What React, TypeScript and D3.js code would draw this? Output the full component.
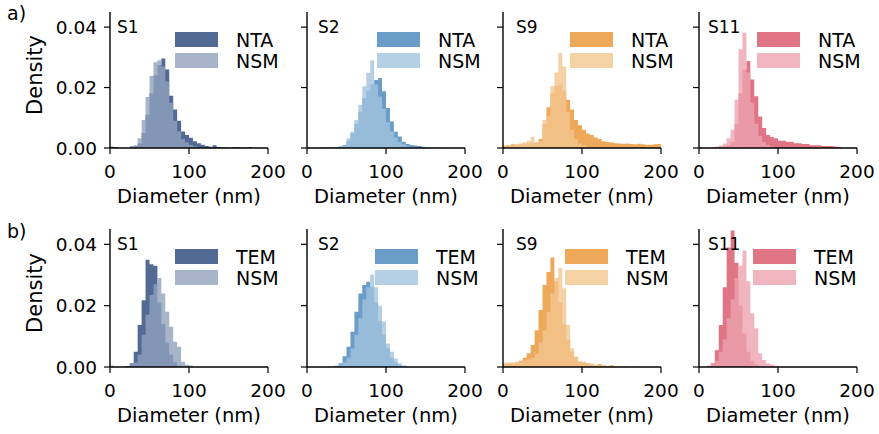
import React from "react";
import * as d3 from "d3";

// Histogram densities per 5 nm bin, starting at 0 nm (bins past the end of a list are empty).
const BIN_WIDTH = 5;
const X_MAX = 200;

const s1NTA = [0.0004,0.0003,0,0,0,0.0003,0.0006,0.0015,0.005,0.011, 0.018,0.024,0.0275,0.0296,0.026,0.0173,0.0127,0.009,0.0055,0.0043, 0.0034,0.0022,0.0016,0.0011,0.0007,0.0004,0.0009,0.0003,0.0002,0.0002, 0.0001,0.0003,0.0003,0.0001,0.0002,0.0003];
const s1NSMa = [0,0,0,0,0,0.0007,0.0009,0.0032,0.0093,0.0169, 0.0238,0.0284,0.029,0.027,0.022,0.015,0.009,0.0055,0.003,0.0018, 0.001,0.0006,0.0003];
const s2NTA = [0,0,0,0.0002,0.0002,0.0002,0.0002,0.0003,0.0005,0.001, 0.0025,0.005,0.008,0.012,0.0165,0.019,0.021,0.0225,0.0232,0.0188, 0.0132,0.0088,0.0054,0.0038,0.0021,0.0013,0.001,0.0008,0.0007,0.0004, 0.0002,0.0001,0.0001,0.0001,0.0001];
const s2NSMa = [0,0,0,0.0001,0.0001,0.0001,0.0001,0.0002,0.0002,0.0008, 0.0032,0.0054,0.0093,0.0143,0.0204,0.0249,0.029,0.021,0.017,0.013, 0.0085,0.0055,0.0035,0.002,0.0012,0.0006,0.0003];
const s9NTA = [0.0008,0.001,0.0012,0.001,0.0012,0.0012,0.0015,0.0015,0.0018,0.003, 0.008,0.0135,0.018,0.0205,0.021,0.019,0.016,0.0127,0.0093,0.0075, 0.006,0.0048,0.0043,0.0035,0.003,0.0022,0.002,0.0018,0.0016,0.0015, 0.0014,0.0015,0.0013,0.0012,0.0014,0.0012,0.0011,0.0011,0.0012,0.0013];
const s9NSMa = [0.0008,0.001,0.0011,0.0013,0.0016,0.0019,0.0024,0.0036,0.0016,0.0022, 0.0093,0.0105,0.0204,0.025,0.0314,0.027,0.012,0.006,0.003,0.0015, 0.0008,0.0004];
const s11NTA = [0,0,0,0,0,0.0003,0.0006,0.001,0.002,0.008, 0.018,0.026,0.0288,0.0227,0.0171,0.0104,0.0066,0.0043,0.0036,0.0032, 0.0024,0.0024,0.0021,0.0021,0.0016,0.0016,0.0013,0.0013,0.0009,0.0009, 0.0009,0.0007,0.0007,0.0007,0.0005,0.0003];
const s11NSMa = [0,0,0,0.0003,0.0005,0.0008,0.0015,0.0032,0.006,0.016, 0.0327,0.0382,0.025,0.015,0.008,0.004,0.002,0.001,0.0005];

const s1TEM = [0,0,0,0,0.0003,0.0012,0.005,0.0137,0.0218,0.035, 0.0335,0.033,0.021,0.014,0.008,0.004,0.0015,0.0005];
const s1NSMb = [0.0005,0,0,0,0,0.0012,0.0015,0.004,0.0105,0.017, 0.0235,0.027,0.029,0.024,0.018,0.0131,0.0082,0.0066,0.0017,0.0007, 0.0005];
const s2TEM = [0,0,0,0,0,0,0,0.0003,0.0012,0.0035, 0.0066,0.0115,0.018,0.024,0.0267,0.0278,0.0262,0.021,0.015,0.0105, 0.006,0.003,0.0015,0.0006,0.0002];
const s2NSMb = [0,0,0,0,0,0.0002,0.0003,0.0005,0.0008,0.0015, 0.003,0.006,0.0105,0.016,0.022,0.026,0.0302,0.026,0.02,0.0148, 0.0077,0.005,0.0028,0.0012,0.0006,0.0002];
const s9TEM = [0.001,0.0012,0.0012,0.0015,0.002,0.003,0.0045,0.0072,0.012,0.0186, 0.0267,0.031,0.0357,0.028,0.021,0.014,0.009,0.005,0.003,0.0018, 0.0015,0.0012,0.0008,0.0005,0.001,0.0005,0.0003,0.0006,0.0002,0.0002, 0.0002,0.0002,0,0.0002];
const s9NSMb = [0.0015,0.0015,0.0015,0.0016,0.0018,0.002,0.0025,0.003,0.0045,0.008, 0.012,0.018,0.024,0.029,0.0324,0.0257,0.0137,0.0061,0.0034,0.0017, 0.0017,0.0012,0.0012,0.0007,0.0007,0.0005,0.0003];
const s11TEM = [0,0,0,0.0012,0.0055,0.0137,0.026,0.039,0.0445,0.034, 0.02,0.011,0.005,0.002,0.0008];
const s11NSMb = [0,0,0.0005,0.001,0.002,0.005,0.009,0.016,0.022,0.029, 0.033,0.038,0.028,0.0175,0.0126,0.0045,0.0023,0.0012,0.0008,0.0004];

const sampleNames = ["S1", "S2", "S9", "S11"];
const rowLetters = ["a)", "b)"];
const methodNames = ["NTA", "TEM"];
const refName = "NSM";
const xTicks = [0, 100, 200];
const yTicks = [0, 0.02, 0.04];

const rowA = [s1NTA, s2NTA, s9NTA, s11NTA];
const rowANSM = [s1NSMa, s2NSMa, s9NSMa, s11NSMa];
const rowB = [s1TEM, s2TEM, s9TEM, s11TEM];
const rowBNSM = [s1NSMb, s2NSMb, s9NSMb, s11NSMb];

// Base colours, drawn at 80% opacity
const darkColors = ["#284679", "#4586bc", "#e99231", "#d85366"];
const lightColors = ["#91a1bd", "#a2c3de", "#f2c690", "#eca3ae"];
const FILL_OPACITY = 0.8;

// Layout
const W = 879;
const H = 434;
const PANEL_LEFTS = [110, 307, 503, 699];
const PANEL_W = 158;
const ROWS = [
  { top: 12, bottom: 148 },
  { top: 229, bottom: 367 },
];
const TITLE_DX = [7, 11, 13, 9];
const LEGEND_DX = [
  [65, 70, 67, 58],
  [65, 68, 62, 54],
];
const FONT = "'DejaVu Sans', sans-serif";
const FS_TICK = 18.5;
const FS_LABEL = 19.5;

function binsToPoints(vals: number[]): [number, number][] {
  const n = Math.round(X_MAX / BIN_WIDTH);
  const pts: [number, number][] = [];
  for (let i = 0; i < n; i++) pts.push([i * BIN_WIDTH, vals[i] ?? 0]);
  pts.push([X_MAX, vals[n - 1] ?? 0]);
  return pts;
}

function Panel({ row, col }: { row: number; col: number }) {
  const left = PANEL_LEFTS[col];
  const { top, bottom } = ROWS[row];
  const x = d3.scaleLinear().domain([0, X_MAX]).range([left, left + PANEL_W]);
  const y = d3.scaleLinear().domain([0, 0.045]).range([bottom, top]);
  const area = d3
    .area<[number, number]>()
    .x((d) => x(d[0]))
    .y0(y(0))
    .y1((d) => y(d[1]))
    .curve(d3.curveStepAfter);
  const main = row === 0 ? rowA[col] : rowB[col];
  const ref = row === 0 ? rowANSM[col] : rowBNSM[col];
  const lx = left + LEGEND_DX[row][col];
  const ly = top + 20;
  const patchW = 43;
  const patchH = 15;
  const rowGap = 21;
  const entries = [
    { label: methodNames[row], color: darkColors[col] },
    { label: refName, color: lightColors[col] },
  ];
  return (
    <g>
      <path d={area(binsToPoints(main)) || ""} fill={darkColors[col]} fillOpacity={FILL_OPACITY} />
      <path d={area(binsToPoints(ref)) || ""} fill={lightColors[col]} fillOpacity={FILL_OPACITY} />
      {entries.map((e, i) => (
        <g key={i}>
          <rect x={lx} y={ly + i * rowGap} width={patchW} height={patchH} fill={e.color} fillOpacity={FILL_OPACITY} />
          <text x={lx + patchW + 18} y={ly + i * rowGap + patchH} fontSize={19} fontFamily={FONT} fill="#000">
            {e.label}
          </text>
        </g>
      ))}
      <text x={left + TITLE_DX[col]} y={top + 21} fontSize={17} fontFamily={FONT} fill="#000">
        {sampleNames[col]}
      </text>
      {/* spines */}
      <line x1={left} x2={left} y1={top} y2={bottom} stroke="#000" strokeWidth={1.4} />
      <line x1={left} x2={left + PANEL_W} y1={bottom} y2={bottom} stroke="#000" strokeWidth={1.4} />
      {/* ticks */}
      {xTicks.map((t) => (
        <g key={"x" + t}>
          <line x1={x(t)} x2={x(t)} y1={bottom} y2={bottom + 6} stroke="#000" strokeWidth={1.2} />
          <text x={x(t)} y={bottom + 30} textAnchor="middle" fontSize={FS_TICK} fontFamily={FONT} fill="#000">
            {t}
          </text>
        </g>
      ))}
      {yTicks.map((t) => (
        <g key={"y" + t}>
          <line x1={left - 6} x2={left} y1={y(t)} y2={y(t)} stroke="#000" strokeWidth={1.2} />
          {col === 0 && (
            <text x={left - 13} y={y(t)} dy="0.36em" textAnchor="end" fontSize={FS_TICK} fontFamily={FONT} fill="#000">
              {t.toFixed(2)}
            </text>
          )}
        </g>
      ))}
      <text x={left + PANEL_W / 2} y={bottom + 55} textAnchor="middle" fontSize={FS_LABEL} fontFamily={FONT} fill="#000">
        Diameter (nm)
      </text>
      {col === 0 && (
        <text
          transform={`translate(42, ${(top + bottom) / 2 - 5}) rotate(-90)`}
          textAnchor="middle"
          fontSize={21}
          fontFamily={FONT}
          fill="#000"
        >
          Density
        </text>
      )}
    </g>
  );
}

export default function App() {
  return (
    <svg width={W} height={H} style={{ position: "absolute", left: 0, top: 0, background: "#fff" }}>
      <rect width={W} height={H} fill="#fff" />
      {ROWS.map((r, ri) => (
        <g key={ri}>
          <text x={7} y={ri === 0 ? 20 : 238} fontSize={19} fontFamily={FONT} fill="#000">
            {rowLetters[ri]}
          </text>
          {sampleNames.map((_, ci) => (
            <Panel key={ci} row={ri} col={ci} />
          ))}
        </g>
      ))}
    </svg>
  );
}
